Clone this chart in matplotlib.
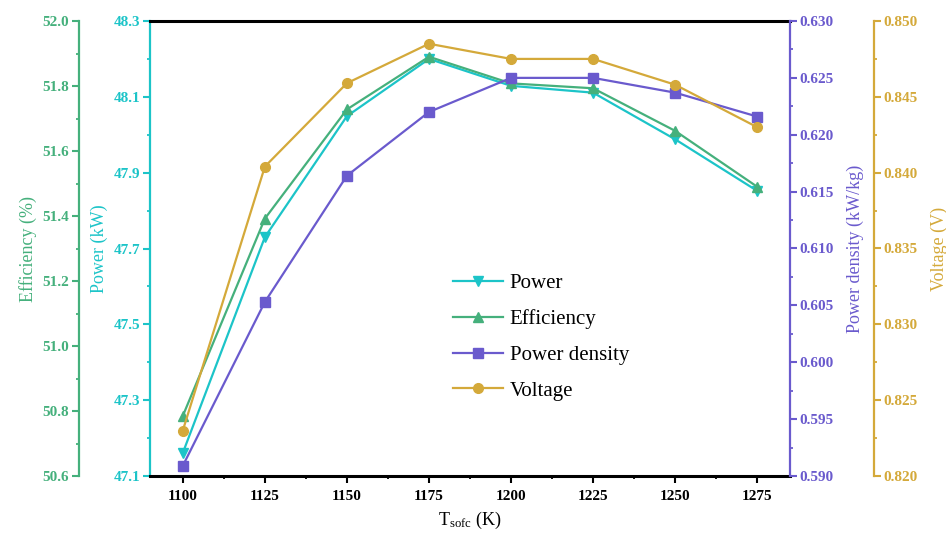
import matplotlib
matplotlib.use('Agg')
import matplotlib.pyplot as plt
from matplotlib.ticker import MultipleLocator, FormatStrFormatter

plt.rcParams['font.family'] = ['Liberation Serif', 'DejaVu Serif']
plt.rcParams['mathtext.fontset'] = 'custom'
plt.rcParams['mathtext.rm'] = 'Liberation Serif'
plt.rcParams['mathtext.it'] = 'Liberation Serif:italic'

# data
temp = [1100, 1125, 1150, 1175, 1200, 1225, 1250, 1275]
power = [47.161, 47.730, 48.049, 48.200, 48.129, 48.111, 47.988, 47.852]
efficiency = [50.785, 51.392, 51.728, 51.890, 51.808, 51.793, 51.662, 51.490]
power_density = [0.5909, 0.6053, 0.6164, 0.6220, 0.6250, 0.6250, 0.6237, 0.6216]
voltage = [0.8230, 0.8404, 0.8459, 0.8485, 0.8475, 0.8475, 0.8458, 0.8430]

c_pow = '#1cc4c8'
c_eff = '#45b07c'
c_pd = '#6a5acd'
c_vol = '#d4a93a'

W, H = 946, 538
fig = plt.figure(figsize=(W / 100, H / 100), dpi=100)
ax = fig.add_axes([150 / W, (H - 476) / H, 640 / W, 455 / H])

ax_eff = ax.twinx()
ax_pd = ax.twinx()
ax_vol = ax.twinx()

lw = 1.6
ms = 7
l1, = ax.plot(temp, power, color=c_pow, marker='v', lw=lw, ms=ms, label='Power')
l2, = ax_eff.plot(temp, efficiency, color=c_eff, marker='^', lw=lw, ms=ms, label='Efficiency')
l3, = ax_pd.plot(temp, power_density, color=c_pd, marker='s', lw=lw, ms=ms - 0.5, label='Power density')
l4, = ax_vol.plot(temp, voltage, color=c_vol, marker='o', lw=lw, ms=ms, label='Voltage')

ax.set_xlim(1090, 1285)
ax.set_xticks(temp)
ax.xaxis.set_minor_locator(MultipleLocator(12.5))
ax.set_ylim(47.1, 48.3)
ax_eff.set_ylim(50.6, 52.0)
ax_pd.set_ylim(0.59, 0.63)
ax_vol.set_ylim(0.82, 0.85)

# left side axes
ax.yaxis.set_major_locator(MultipleLocator(0.2, offset=0.1))
ax.yaxis.set_minor_locator(MultipleLocator(0.1))
ax.yaxis.set_major_formatter(FormatStrFormatter('%.1f'))

ax_eff.yaxis.set_ticks_position('left')
ax_eff.yaxis.set_label_position('left')
ax_eff.spines['left'].set_position(('axes', (79 - 150) / 640))
ax_eff.yaxis.set_major_locator(MultipleLocator(0.2))
ax_eff.yaxis.set_minor_locator(MultipleLocator(0.1))
ax_eff.yaxis.set_major_formatter(FormatStrFormatter('%.1f'))

ax_pd.yaxis.set_major_locator(MultipleLocator(0.005))
ax_pd.yaxis.set_minor_locator(MultipleLocator(0.0025))
ax_pd.yaxis.set_major_formatter(FormatStrFormatter('%.3f'))

ax_vol.spines['right'].set_position(('axes', (874 - 150) / 640))
ax_vol.yaxis.set_major_locator(MultipleLocator(0.005))
ax_vol.yaxis.set_minor_locator(MultipleLocator(0.0025))
ax_vol.yaxis.set_major_formatter(FormatStrFormatter('%.3f'))

for a in (ax, ax_eff, ax_pd, ax_vol):
    for s in a.spines.values():
        s.set_visible(False)
        s.set_linewidth(1.6)

ax.spines['left'].set_visible(True)
ax.spines['left'].set_color(c_pow)
ax.spines['top'].set_visible(True)
ax.spines['bottom'].set_visible(True)
ax.spines['top'].set_color('black')
ax.spines['bottom'].set_color('black')
ax.spines['top'].set_linewidth(2.2)
ax.spines['bottom'].set_linewidth(2.2)
ax_eff.spines['left'].set_visible(True)
ax_eff.spines['left'].set_color(c_eff)
ax_pd.spines['right'].set_visible(True)
ax_pd.spines['right'].set_color(c_pd)
ax_vol.spines['right'].set_visible(True)
ax_vol.spines['right'].set_color(c_vol)

for a, c in ((ax, c_pow), (ax_eff, c_eff), (ax_pd, c_pd), (ax_vol, c_vol)):
    a.tick_params(axis='y', which='major', colors=c, length=5, width=1.5, labelsize=11, pad=2)
    a.tick_params(axis='y', which='minor', colors=c, length=2.5, width=1.3)
    for t in a.get_yticklabels():
        t.set_fontweight('bold')

ax.tick_params(axis='x', which='major', length=5, width=1.5, labelsize=11, pad=5)
ax.tick_params(axis='x', which='minor', length=2.5, width=1.3)
for t in ax.get_xticklabels():
    t.set_fontweight('bold')

ax.set_ylabel('Power (kW)', color=c_pow, fontsize=13, labelpad=4)
ax_eff.set_ylabel('Efficiency (%)', color=c_eff, fontsize=13, labelpad=4)
ax_pd.set_ylabel('Power density (kW/kg)', color=c_pd, fontsize=13, labelpad=9)
ax_vol.set_ylabel('Voltage (V)', color=c_vol, fontsize=13, labelpad=9)
ax.set_xlabel(r'T$_{\mathrm{sofc}}$ (K)', fontsize=13, labelpad=5)

leg = ax_vol.legend(handles=[l1, l2, l3, l4], loc='upper left',
                    bbox_to_anchor=((445 - 150) / 640, (476 - 265) / 455),
                    frameon=False, fontsize=15, handlelength=2.4,
                    labelspacing=0.78, handletextpad=0.3, borderaxespad=0)

fig.savefig('out.png', dpi=100)
